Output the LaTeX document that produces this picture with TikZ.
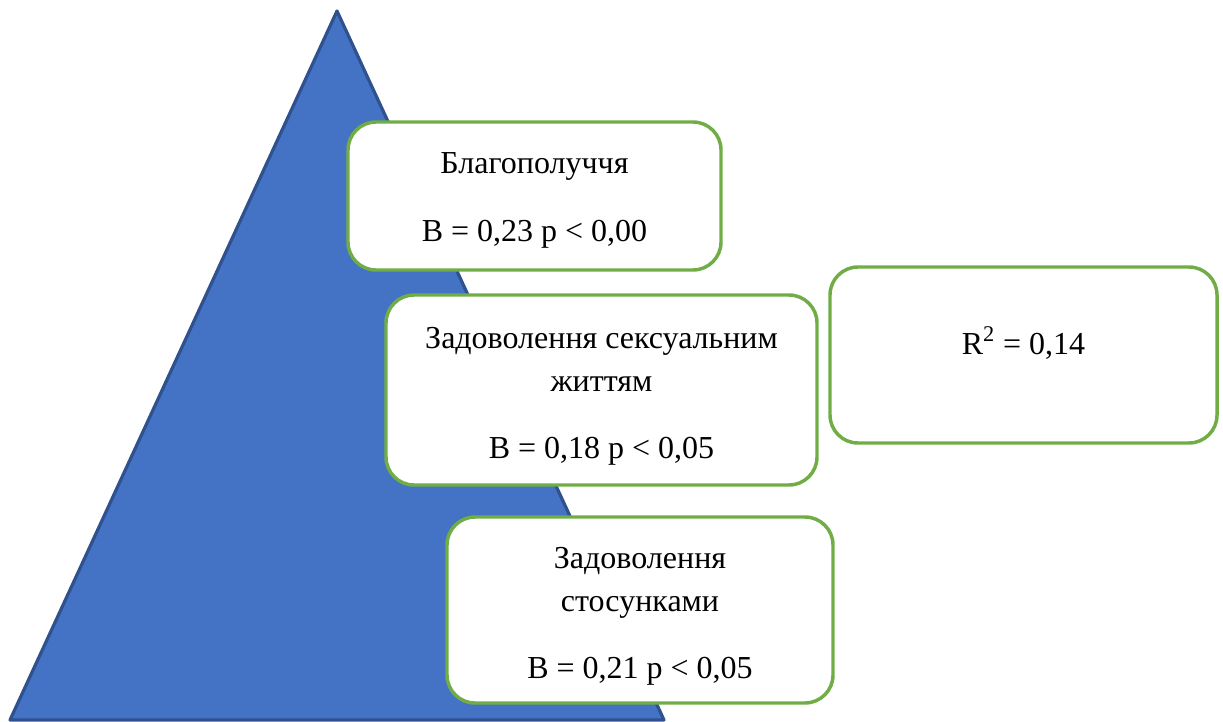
\documentclass[tikz,border=0pt]{standalone}
\usepackage{fontspec}
\setmainfont{Liberation Serif}
\usepackage{xcolor}
\usetikzlibrary{positioning}

\definecolor{triblue}{HTML}{4472C4}
\definecolor{triedge}{HTML}{2F528F}
\definecolor{boxgreen}{HTML}{70AD47}

\begin{document}
\begin{tikzpicture}[x=0.75pt, y=-0.75pt,
  tri/.style={fill=triblue, draw=triedge, line width=2.4pt, line join=round},
  resbox/.style={draw=boxgreen, fill=white, line width=2.6pt, rounded corners=21pt, inner sep=0pt},
  label/.style={font=\fontsize{24}{32.25}\selectfont, align=center, inner sep=0pt}
]
  \useasboundingbox (0,0) rectangle (1223,721);

  % ======= піраміда =======
  \draw[tri] (337,11) -- (664,720) -- (10,720) -- cycle;

  % ======= предиктори =======
  \node[resbox, minimum width=279.75pt, minimum height=111pt] (wellbeing) at (534.5,196) {};
  \node[resbox, minimum width=323.25pt, minimum height=142.5pt] (sexlife) at (601.5,390) {};
  \node[resbox, minimum width=289.5pt, minimum height=139.5pt] (relations) at (640,610) {};

  \node[label] (wellbeingtext) at ([yshift=-3pt]wellbeing.center)
    {Благополуччя\\[18.75pt]B = 0,23 p < 0,00};
  \node[label] (sexlifetext) at ([yshift=-4.5pt]sexlife.center)
    {Задоволення сексуальним\\життям\\[18pt]B = 0,18 p < 0,05};
  \node[label] (relationstext) at ([yshift=-4.5pt]relations.center)
    {Задоволення\\стосунками\\[18pt]B = 0,21 p < 0,05};

  % ======= пояснена дисперсія =======
  \node[resbox, minimum width=290.25pt, minimum height=132pt] (rsq) at (1023.5,355) {};
  \node[label, anchor=base] (rsqtext) at ([yshift=0.75pt]rsq.center) {R\textsuperscript{2} = 0,14};

\end{tikzpicture}
\end{document}
